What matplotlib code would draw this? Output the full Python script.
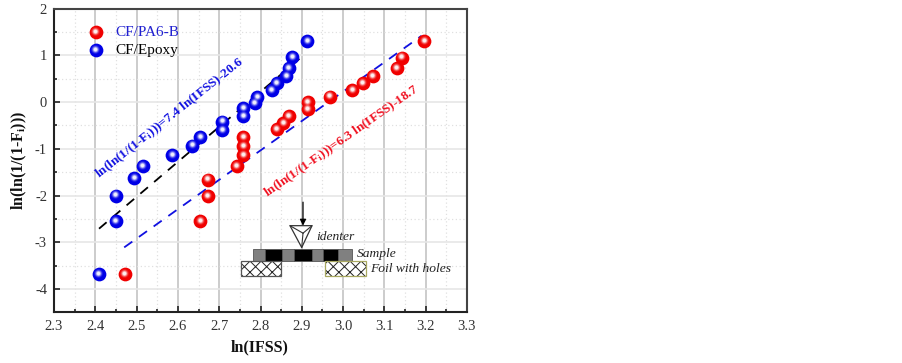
import numpy as np
import matplotlib
matplotlib.use('Agg')
import matplotlib.pyplot as plt
from matplotlib.patches import Rectangle, Polygon
from matplotlib.transforms import ScaledTranslation

plt.rcParams['font.family'] = ['Liberation Serif', 'DejaVu Serif']
plt.rcParams['mathtext.fontset'] = 'custom'
plt.rcParams['mathtext.rm'] = 'Liberation Serif'
plt.rcParams['mathtext.it'] = 'Liberation Serif:italic'
plt.rcParams['mathtext.bf'] = 'Liberation Serif:bold'
plt.rcParams['hatch.linewidth'] = 0.7

W, H = 903, 363

# values
epoxy_x = [2.409, 2.45, 2.45, 2.494, 2.515, 2.586, 2.635, 2.654, 2.707, 2.707,
           2.758, 2.758, 2.786, 2.792, 2.827, 2.839, 2.862, 2.869, 2.877, 2.913]
epoxy_y = [-3.68, -2.55, -2.0, -1.63, -1.365, -1.13, -0.93, -0.743, -0.6, -0.42,
           -0.3, -0.136, -0.014, 0.114, 0.257, 0.41, 0.557, 0.735, 0.96, 1.31]
pa6_x = [2.471, 2.654, 2.672, 2.672, 2.742, 2.758, 2.758, 2.758, 2.839, 2.855,
         2.869, 2.914, 2.914, 2.968, 3.022, 3.047, 3.072, 3.13, 3.142, 3.197]
pa6_y = [-3.68, -2.55, -2.01, -1.657, -1.365, -1.13, -0.936, -0.743, -0.586, -0.443,
         -0.3, -0.157, -0.007, 0.12, 0.257, 0.4, 0.557, 0.735, 0.95, 1.31]
fit_epoxy_x = [2.409, 2.904]
fit_epoxy_y = [-2.71, 1.0]
fit_pa6_x = [2.47, 3.19]
fit_pa6_y = [-3.11, 1.42]

xticks = [2.3, 2.4, 2.5, 2.6, 2.7, 2.8, 2.9, 3.0, 3.1, 3.2, 3.3]
yticks = [-4, -3, -2, -1, 0, 1, 2]

# picture pixel -> data, for the little sketch and the labels
def px(x, y):
    return 2.3 + (x - 54) / 413.0, 2 - (y - 8.7) / 46.67


def sphere(ax, x, y, col, light, size=98):
    fig = ax.figure
    # glossy ball: solid disc, then lighter discs towards the shine
    ax.scatter(x, y, s=size, color=col, linewidths=0, zorder=5)
    shades = [(0.4, 0.12), (0.24, 0.3), (0.13, 0.5), (0.06, 0.8)]
    for k, a in shades:
        off = ScaledTranslation(-0.4 / 72, 0.9 / 72, fig.dpi_scale_trans)
        ax.scatter(x, y, s=size * k, color=light, alpha=a, linewidths=0,
                   zorder=6, transform=ax.transData + off)


fig = plt.figure(figsize=(W / 100, H / 100), dpi=100)
ax = fig.add_axes([54 / W, 1 - 312.3 / H, 413 / W, 303.6 / H])
ax.set_xlim(2.3, 3.3)
ax.set_ylim(-4.5, 2)

ax.set_xticks(xticks)
ax.set_yticks(yticks)
ax.set_xticks(np.arange(2.35, 3.3, 0.1), minor=True)
ax.set_yticks(np.arange(-3.5, 2, 1), minor=True)
ax.set_xticklabels(['%.1f' % v for v in xticks], fontsize=10.5, color='#333333')
ax.set_yticklabels([str(v) for v in yticks], fontsize=10.5, color='#333333')
ax.tick_params(which='major', direction='in', length=4.5, width=1.2, color='#222222')
ax.tick_params(which='minor', direction='in', length=2.5, width=1.2, color='#222222')
ax.tick_params(axis='x', which='major', pad=5.5)
ax.tick_params(axis='y', which='major', pad=5)

ax.set_axisbelow(True)
ax.grid(axis='y', which='major', color='#e6e6e6', lw=1.2)
ax.grid(axis='x', which='major', color='#c4c4c4', lw=1.2)
ax.grid(which='minor', color='#e0e0e0', lw=0.9, ls=(0, (1, 2)))

for s in ['left', 'bottom']:
    ax.spines[s].set_linewidth(1.5)
    ax.spines[s].set_color('#222222')
for s in ['top', 'right']:
    ax.spines[s].set_linewidth(1.5)
    ax.spines[s].set_color('#444444')

ax.plot(fit_epoxy_x, fit_epoxy_y, color='black', lw=1.3, ls=(0, (5.5, 4.5)), zorder=3)
ax.plot(fit_pa6_x, fit_pa6_y, color='#1010e0', lw=1.3, ls=(0, (5.5, 4.5)), zorder=3)

sphere(ax, pa6_x, pa6_y, '#f00000', '#ffffff')
sphere(ax, epoxy_x, epoxy_y, '#0000e6', '#ffffff')

# legend drawn by hand, as in the figure
lx, ly = px(95.5, 32)
sphere(ax, [lx], [ly], '#f00000', '#ffffff')
lx, ly = px(95.5, 50)
sphere(ax, [lx], [ly], '#0000e6', '#ffffff')
tx, ty = px(115.5, 32)
ax.text(tx, ty, 'CF/PA6-B', color='#2020d0', fontsize=11, va='center')
tx, ty = px(115.5, 50)
ax.text(tx, ty, 'CF/Epoxy', color='black', fontsize=11, va='center')

tx, ty = px(170, 118)
ax.text(tx, ty, r'ln(ln(1/(1-F$_{\mathbf{i}}$)))=7.4 ln(IFSS)-20.6', color='#1010e0',
        fontsize=9.5, fontweight='bold', rotation=38.5, rotation_mode='anchor',
        ha='center', va='center')
tx, ty = px(342, 141)
ax.text(tx, ty, r'ln(ln(1/(1-F$_{\mathbf{i}}$)))=6.3 ln(IFSS)-18.7', color='#f01020',
        fontsize=9.5, fontweight='bold', rotation=35, rotation_mode='anchor',
        ha='center', va='center')

# sketch of the test
segs = [(253.3, 265, '#808080'), (265, 281.7, 'black'), (281.7, 294, '#808080'),
        (294, 311.7, 'black'), (311.7, 323.3, '#808080'), (323.3, 338.3, 'black'),
        (338.3, 351.7, '#808080')]
for x0, x1, c in segs:
    a = px(x0, 260.7)
    b = px(x1, 249.3)
    ax.add_patch(Rectangle(a, b[0] - a[0], b[1] - a[1], fc=c, ec='#555555', lw=0.6, zorder=4))
for x0, x1, ec in [(240.7, 281, '#555555'), (325, 365.7, '#a8a860')]:
    a = px(x0, 276)
    b = px(x1, 260.7)
    ax.add_patch(Rectangle(a, b[0] - a[0], b[1] - a[1], fc='white', ec='#222222', hatch='xxx',
                           lw=0, zorder=4))
    ax.add_patch(Rectangle(a, b[0] - a[0], b[1] - a[1], fc='none', ec=ec, lw=0.9, zorder=4))
ax.add_patch(Polygon([px(290, 225.5), px(312, 225.5), px(301.7, 247.3)], closed=True,
                     fc='white', ec='#333333', lw=0.9, zorder=4))
for p in [(290, 225.5), (312, 225.5), (301.7, 247.3)]:
    q = px(303, 233)
    r = px(*p)
    ax.plot([q[0], r[0]], [q[1], r[1]], color='#333333', lw=0.8, zorder=4)
ax.annotate('', xy=px(303, 225.5), xytext=px(303, 202),
            arrowprops=dict(arrowstyle='-|>', color='black', lw=0.9, mutation_scale=9,
                            shrinkA=0, shrinkB=0), zorder=5)

tx, ty = px(316, 236.5)
ax.text(tx, ty, 'identer', style='italic', fontsize=9.7, color='#222222', va='center')
tx, ty = px(356.5, 254)
ax.text(tx, ty, 'Sample', style='italic', fontsize=9.7, color='#222222', va='center')
tx, ty = px(370.5, 269)
ax.text(tx, ty, 'Foil with holes', style='italic', fontsize=9.7, color='#222222', va='center')

fig.text(260 / W, 1 - 347 / H, 'ln(IFSS)', fontsize=11.5, fontweight='bold',
         ha='center', va='center', color='#111111')
fig.text(19 / W, 1 - 160 / H, r'ln(ln(1/(1-F$_{\mathbf{i}}$)))', fontsize=11.5, fontweight='bold',
         rotation=90, ha='center', va='center', color='#111111')

plt.savefig('out.png', dpi=100)
